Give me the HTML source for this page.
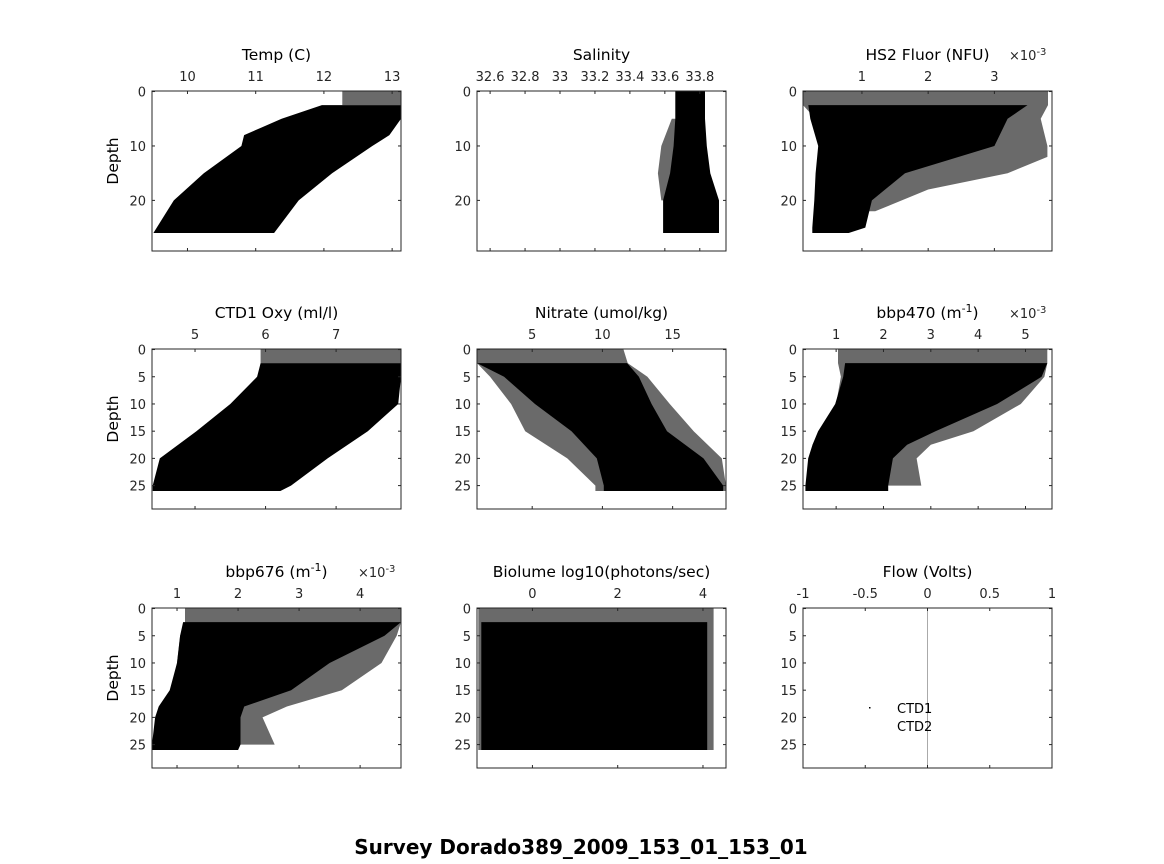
<!DOCTYPE html>
<html><head><meta charset="utf-8"><style>
body{margin:0;background:#fff;}
svg{display:block;font-family:"DejaVu Sans","Liberation Sans",sans-serif;}
</style></head><body>
<svg id="fig" width="1164" height="864" viewBox="0 0 1164 864">
<rect width="1164" height="864" fill="#fff"/>
<text x="581" y="854" text-anchor="middle" font-size="20" font-weight="bold">Survey Dorado389_2009_153_01_153_01</text>
</svg>
<script>
// Dense envelope (depth, min, max) and sparse envelope per panel
const tempD=[2.5,5,8,10,15,20,26], tempLo=[11.97,11.38,10.83,10.79,10.24,9.8,9.5], tempHi=[13.13,13.13,12.96,12.71,12.12,11.63,11.27];
const tempSD=[0,2.5], tempSLo=[12.27,12.27], tempSHi=[13.13,13.13];
const salD=[0,5,10,15,20,26], salLo=[33.66,33.66,33.65,33.63,33.59,33.59], salHi=[33.83,33.83,33.84,33.86,33.91,33.91];
const salSD=[5,10,15,20], salSLo=[33.64,33.58,33.56,33.58], salSHi=[33.8,33.8,33.8,33.8];
const fluD=[2.5,5,10,15,20,25,26], fluLo=[0.19,0.22,0.34,0.3,0.28,0.25,0.25], fluHi=[3.5,3.2,3.0,1.65,1.15,1.05,0.8];
const fluSD=[0,2.5,5,10,12,15,18,22], fluSLo=[0.11,0.11,0.3,0.5,0.5,0.5,0.5,0.5], fluSHi=[3.81,3.81,3.7,3.8,3.8,3.2,2.0,1.2];
const oxyD=[2.5,5,10,15,20,25,26], oxyLo=[5.93,5.88,5.5,5.02,4.5,4.4,4.4], oxyHi=[7.92,7.92,7.88,7.45,6.88,6.36,6.21];
const oxySD=[0,2.5], oxySLo=[5.93,5.93], oxySHi=[7.92,7.92];
const nitD=[2.5,5,10,15,20,25,26], nitLo=[1.07,3.0,5.2,7.8,9.6,10.1,10.1], nitHi=[11.76,12.6,13.5,14.6,17.2,18.6,18.6];
const nitSD=[0,2.5,5,10,15,20,25,26], nitSLo=[1.07,1.07,2.0,3.5,4.5,7.5,9.5,9.5], nitSHi=[11.5,11.8,13.2,14.8,16.5,18.5,18.8,18.8];
const b470D=[2.5,5,10,15,17.5,20,25,26], b470Lo=[1.19,1.15,0.98,0.62,0.5,0.41,0.35,0.35], b470Hi=[5.46,5.34,4.4,3.1,2.5,2.2,2.1,2.1];
const b470SD=[0,2.5,5,10,15,17.5,20,25], b470SLo=[1.04,1.04,1.1,1.0,0.7,0.5,0.5,0.5], b470SHi=[5.46,5.46,5.4,4.9,3.9,3.0,2.7,2.8];
const b676D=[2.5,5,10,15,18,20,25,26], b676Lo=[1.1,1.05,1.0,0.88,0.7,0.64,0.59,0.59], b676Hi=[4.67,4.4,3.5,2.87,2.1,2.04,2.04,2.0];
const b676SD=[0,2.5,5,10,15,18,20,25], b676SLo=[1.13,1.13,1.05,1.0,0.9,0.8,0.7,0.7], b676SHi=[4.67,4.67,4.6,4.35,3.7,2.8,2.4,2.6];
const bioD=[2.5,26], bioLo=[-1.2,-1.2], bioHi=[4.1,4.1];
const bioSD=[0,2.5,26], bioSLo=[-1.27,-1.27,-1.27], bioSHi=[4.25,4.25,4.25];
const yt1=[0,10,20], yt2=[0,5,10,15,20,25];

const panels=[
 {n:'temp',t:'Temp (C)',x:152,y:91,xl:[9.48,13.13],xt:[10,11,12,13],yt:yt1,d:tempD,lo:tempLo,hi:tempHi,sd:tempSD,slo:tempSLo,shi:tempSHi,yl:true},
 {n:'salinity',t:'Salinity',x:477,y:91,xl:[32.525,33.95],xt:[32.6,32.8,33,33.2,33.4,33.6,33.8],yt:yt1,d:salD,lo:salLo,hi:salHi,sd:salSD,slo:salSLo,shi:salSHi},
 {n:'fluor',t:'HS2 Fluor (NFU)',x:803,y:91,xl:[0.11,3.87],xt:[1,2,3],yt:yt1,d:fluD,lo:fluLo,hi:fluHi,sd:fluSD,slo:fluSLo,shi:fluSHi,e:true},
 {n:'oxy',t:'CTD1 Oxy (ml/l)',x:152,y:349,xl:[4.39,7.92],xt:[5,6,7],yt:yt2,d:oxyD,lo:oxyLo,hi:oxyHi,sd:oxySD,slo:oxySLo,shi:oxySHi,yl:true},
 {n:'nitrate',t:'Nitrate (umol/kg)',x:477,y:349,xl:[1.07,18.8],xt:[5,10,15],yt:yt2,d:nitD,lo:nitLo,hi:nitHi,sd:nitSD,slo:nitSLo,shi:nitSHi},
 {n:'bbp470',t:'bbp470 (m<tspan baseline-shift="super" font-size="11">-1</tspan>)',x:803,y:349,xl:[0.3,5.56],xt:[1,2,3,4,5],yt:yt2,d:b470D,lo:b470Lo,hi:b470Hi,sd:b470SD,slo:b470SLo,shi:b470SHi,e:true},
 {n:'bbp676',t:'bbp676 (m<tspan baseline-shift="super" font-size="11">-1</tspan>)',x:152,y:608,xl:[0.59,4.67],xt:[1,2,3,4],yt:yt2,d:b676D,lo:b676Lo,hi:b676Hi,sd:b676SD,slo:b676SLo,shi:b676SHi,yl:true,e:true},
 {n:'biolume',t:'Biolume log10(photons/sec)',x:477,y:608,xl:[-1.3,4.54],xt:[0,2,4],yt:yt2,d:bioD,lo:bioLo,hi:bioHi,sd:bioSD,slo:bioSLo,shi:bioSHi},
 {n:'flow',t:'Flow (Volts)',x:803,y:608,xl:[-1,1],xt:[-1,-0.5,0,0.5,1],yt:yt2,flow:true}
];
const W=249,H=160,YL=[-0.1,29.3];
const svg=document.getElementById('fig');
const NS='http://www.w3.org/2000/svg';
function mk(tag,attrs,parent){const e=document.createElementNS(NS,tag);for(const k in attrs)e.setAttribute(k,attrs[k]);(parent||svg).appendChild(e);return e;}
function envPts(d,lo,hi,sx,sy){
 let pts=[];
 d.forEach((v,i)=>pts.push(sx(lo[i]).toFixed(1)+','+sy(v).toFixed(1)));
 for(let i=d.length-1;i>=0;i--)pts.push(sx(hi[i]).toFixed(1)+','+sy(d[i]).toFixed(1));
 return pts.join(' ');
}
panels.forEach(p=>{
 const g=mk('g',{});
 
 
 const sx=v=>p.x+(v-p.xl[0])/(p.xl[1]-p.xl[0])*W;
 const sy=d=>p.y+(d-YL[0])/(YL[1]-YL[0])*H;
 if(p.sd){
  const sp=mk('polygon',{points:envPts(p.sd,p.slo,p.shi,sx,sy),fill:'#6a6a6a'},g);
  
  
 }
 if(p.d){
  const poly=mk('polygon',{points:envPts(p.d,p.lo,p.hi,sx,sy),fill:'#000'},g);
  
  
 }
 if(p.flow){
  const ln=mk('line',{x1:sx(0),x2:sx(0),y1:p.y,y2:p.y+H,stroke:'#aaa','stroke-width':1},g);
  
  
  const t1=mk('text',{x:897,y:713,'font-size':13},g);t1.textContent='CTD1';
  
  
  const t2=mk('text',{x:897,y:731,'font-size':13},g);t2.textContent='CTD2';
  
  
  mk('rect',{x:869,y:707,width:1.5,height:1.5,fill:'#000'},g);
 }
 const box=mk('rect',{x:p.x,y:p.y,width:W,height:H,fill:'none',stroke:'#262626','stroke-width':1},g);
 
 
 p.xt.forEach(v=>{
  mk('line',{x1:sx(v),x2:sx(v),y1:p.y,y2:p.y+3,stroke:'#262626'},g);
  mk('line',{x1:sx(v),x2:sx(v),y1:p.y+H,y2:p.y+H-3,stroke:'#262626'},g);
  const t=mk('text',{x:sx(v),y:p.y-10,'font-size':13,'text-anchor':'middle',fill:'#262626'},g);
  t.textContent=String(v);
  
  
 });
 p.yt.forEach(v=>{
  mk('line',{x1:p.x,x2:p.x+3,y1:sy(v),y2:sy(v),stroke:'#262626'},g);
  mk('line',{x1:p.x+W,x2:p.x+W-3,y1:sy(v),y2:sy(v),stroke:'#262626'},g);
  const t=mk('text',{x:p.x-6,y:sy(v)+5,'font-size':13,'text-anchor':'end',fill:'#262626'},g);
  t.textContent=String(v);
  
  
 });
 const tt=mk('text',{x:p.x+W/2,y:p.y-31,'font-size':15.5,'text-anchor':'middle',fill:'#000'},g);
 tt.innerHTML=p.t;
 
 
 if(p.e){
  const ex=mk('text',{x:p.x+W-43,y:p.y-31,'font-size':13,fill:'#262626'},g);
  ex.innerHTML='×10<tspan baseline-shift="super" font-size="10">-3</tspan>';
  
  
 }
 if(p.yl){
  const yl=mk('text',{x:0,y:0,'font-size':15.5,'text-anchor':'middle',transform:`translate(118,${p.y+H/2-10}) rotate(-90)`},g);
  yl.textContent='Depth';
  
  
 }
});
</script>
</body></html>
